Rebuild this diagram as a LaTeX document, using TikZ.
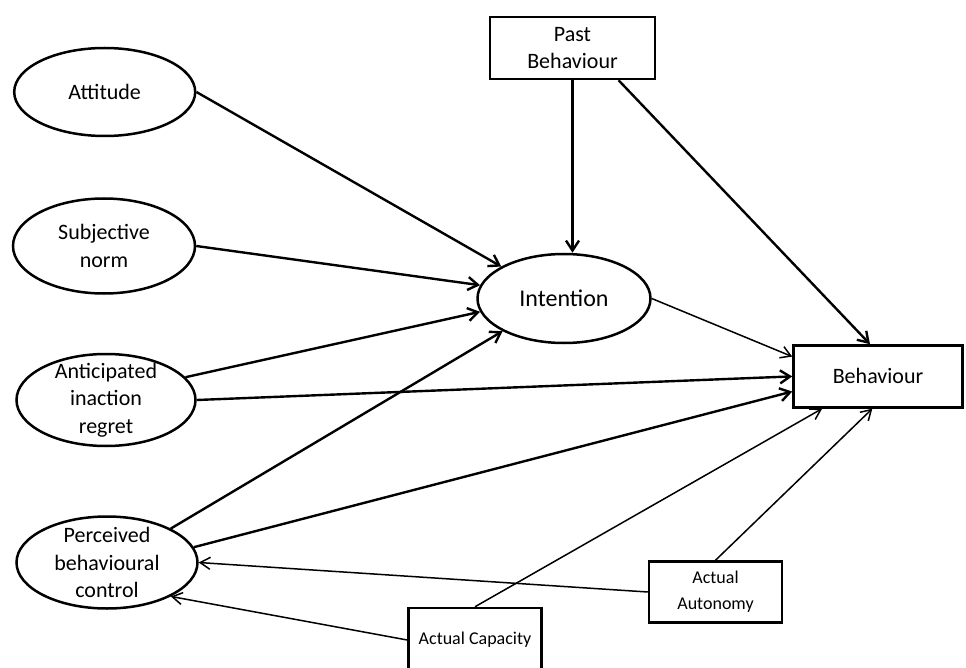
\documentclass[tikz,border=0pt]{standalone}
\usepackage{fontspec}
\setmainfont{Carlito}
\usetikzlibrary{arrows.meta,shapes.geometric}
\begin{document}
\begin{tikzpicture}[x=1pt,y=-1pt,
  every node/.style={font=\fontsize{22}{27.5}\selectfont},
  oval/.style={ellipse, draw, line width=2.5pt, inner sep=0pt},
  box/.style={rectangle, draw, line width=2.5pt, inner sep=0pt, align=center},
  smallbox/.style={box, font=\fontsize{18}{26}\selectfont},
  txt/.style={align=center, inner sep=0pt},
  heavy/.style={line width=2.4pt, -{Straight Barb[length=10pt,width=13pt]}},
  light/.style={line width=1.5pt, -{Straight Barb[length=10pt,width=12pt]}}]
\useasboundingbox (0,0) rectangle (966,668);

% latent constructs (ellipses)
\node[oval, minimum width=181pt, minimum height=88pt] (att) at (104.7,92) {};
\node[txt] (att-t) at (att) {Attitude};
\node[oval, minimum width=182pt, minimum height=95pt] (sub) at (104,246) {};
\node[txt] (sub-t) at (sub) {Subjective\\norm};
\node[oval, minimum width=179pt, minimum height=92pt] (ant) at (106,400) {};
\node[txt] (ant-t) at (ant) {Anticipated\\inaction\\regret};
\node[oval, minimum width=181pt, minimum height=92pt] (per) at (107,562.5) {};
\node[txt] (per-t) at (per) {Perceived\\behavioural\\control};
\node[oval, minimum width=173pt, minimum height=89pt] (int) at (564,298.5) {};
\node[txt, font=\fontsize{24}{28}\selectfont] (int-t) at (int) {Intention};

% observed variables (boxes)
\node[box, minimum width=165pt, minimum height=62pt] (past) at (572.5,48) {Past\\Behaviour};
\node[box, minimum width=169pt, minimum height=62pt] (beh) at (878,376.4) {Behaviour};
\node[smallbox, minimum width=133pt, minimum height=61pt] (aut) at (715.5,592) {Actual\\Autonomy};
\node[smallbox, minimum width=133pt, minimum height=64pt] (cap) at (475,640) {Actual Capacity};

% paths to intention
\draw[heavy] (att.east) -- (int.153);
\draw[heavy] (sub.east) -- (int.171);
\draw[heavy] (ant.16) -- (int.189);
\draw[heavy] (per.28) -- (int.208);
\draw[heavy] (past.south) -- (past.south |- int.north);

% paths to behaviour
\draw[heavy] (past.-35) -- (beh.104);
\draw[light] (int.east) -- (beh.167);
\draw[heavy] (ant.east) -- (beh.west);
\draw[heavy] (per.10) -- (beh.190);
\draw[light] (cap.north) -- (beh.210);
\draw[light] (aut.north) -- (beh.260);

% actual control feeding perceived control
\draw[light] (aut.west) -- (per.east);
\draw[light] (cap.west) -- (per.-28);
\end{tikzpicture}
\end{document}
